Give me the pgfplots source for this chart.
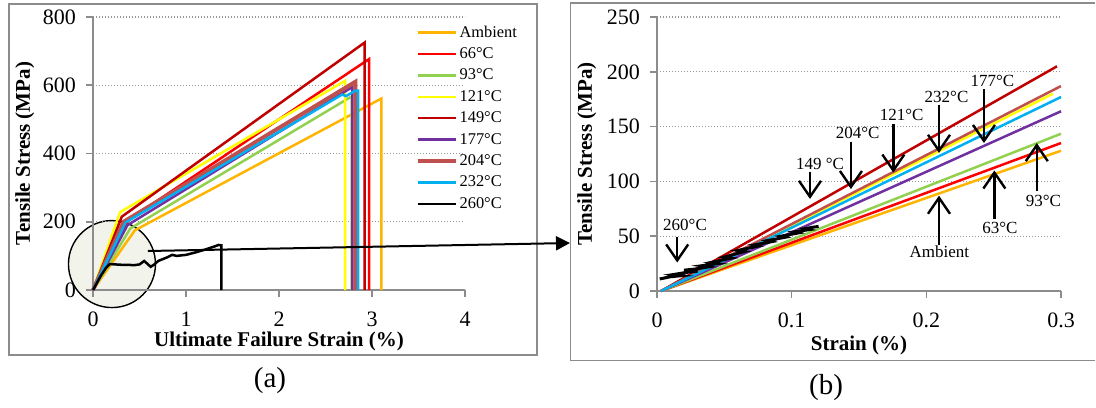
\documentclass[border=0pt]{standalone}
\usepackage{fontspec}
\setmainfont{Liberation Serif}
\usepackage{pgfplots}
\pgfplotsset{compat=1.18}
\usetikzlibrary{arrows.meta}

\definecolor{cAmb}{HTML}{FFB400}
\definecolor{cSixSix}{HTML}{FF0000}
\definecolor{cNineThree}{HTML}{92D050}
\definecolor{cOneTwoOne}{HTML}{FFFF00}
\definecolor{cOneFourNine}{HTML}{C00000}
\definecolor{cOneSevenSeven}{HTML}{7030A0}
\definecolor{cTwoZeroFour}{HTML}{C0504D}
\definecolor{cTwoThreeTwo}{HTML}{00B0F0}
\definecolor{framegray}{HTML}{8C8C8C}
\definecolor{circfill}{HTML}{F2F4EC}

\tikzset{annarrow/.style={line width=1.2pt, -{Straight Barb[length=8pt,width=11pt]}}}

\pgfplotsset{
  panel/.style={
    scale only axis,
    anchor=south west,
    clip=false,
    set layers=standard,
    axis x line*=bottom,
    axis y line*=left,
    axis line style={framegray, line width=0.8pt},
    tick align=outside,
    major tick length=3.5pt,
    tick style={framegray, line width=0.8pt},
    ymajorgrids=true,
    major grid style={gray!80, line width=0.6pt, dash pattern=on 0.6pt off 0.9pt},
    /pgf/number format/assume math mode=true,
    ticklabel style={font=\rmfamily\fontsize{11}{12}\selectfont},
    xticklabel style={yshift=-4pt},
    yticklabel style={xshift=-1.5pt},
    label style={font=\bfseries\fontsize{10.5}{12}\selectfont},
    every axis plot/.append style={line width=1.25pt},
  },
  /pgf/number format/1000 sep={},
}

\begin{document}
\begin{tikzpicture}
\path (0,0) rectangle (548pt,203pt);

% panel frames
\draw[framegray, line width=0.8pt] (4.35pt,25.5pt) rectangle (268.5pt,201pt);
\draw[framegray, line width=0.8pt] (547.5pt,201.5pt) -- (285.3pt,201.5pt) -- (285.3pt,22.7pt) -- (547.5pt,22.7pt);

% (a) ultimate failure
\begin{axis}[panel,
  at={(46.5pt,58pt)},
  width=186pt, height=136.5pt,
  xmin=0, xmax=4, ymin=0, ymax=800,
  xtick={0,1,2,3,4}, ytick={0,200,400,600,800},
  xlabel={Ultimate Failure Strain (\%)},
  ylabel={Tensile Stress (MPa)},
  xlabel style={at={(axis description cs:0.5,-0.189)}, anchor=center},
  ylabel style={at={(axis description cs:-0.183,0.5)}, anchor=center},
  legend style={draw=none, fill=none, at={(axis cs:3.40,792)}, anchor=north west,
    font=\fontsize{8.2}{9}\selectfont, row sep=2.2pt,
    nodes={inner xsep=1pt, inner ysep=0.5pt, text height=6pt, text depth=1.5pt}},
  legend cell align=left,
  legend image code/.code={\draw[#1] (0pt,0pt) -- (19pt,0pt);},
]
\addplot[cAmb] coordinates {(0,0) (0.45,175) (3.10,561) (3.10,0)};
\addlegendentry{Ambient}
\addplot[cSixSix] coordinates {(0,0) (0.38,205) (2.97,677) (2.97,0)};
\addlegendentry{66°C}
\addplot[cNineThree] coordinates {(0,0) (0.40,180) (2.78,567) (2.78,0)};
\addlegendentry{93°C}
\addplot[cOneTwoOne] coordinates {(0,0) (0.29,228) (2.71,613) (2.71,0)};
\addlegendentry{121°C}
\addplot[cOneFourNine] coordinates {(0,0) (0.31,215) (2.92,725) (2.92,0)};
\addlegendentry{149°C}
\addplot[cOneSevenSeven] coordinates {(0,0) (0.37,190) (2.79,595) (2.79,0)};
\addlegendentry{177°C}
\addplot[cTwoZeroFour, line width=2pt] coordinates {(0,0) (0.33,200) (2.82,610) (2.82,0)};
\addlegendentry{204°C}
\addplot[cTwoThreeTwo] coordinates {(0,0) (0.35,198) (2.68,573) (2.72,568) (2.82,584) (2.85,584) (2.85,0)};
\addlegendentry{232°C}
\addplot[black] coordinates {(0,0) (0.03,15) (0.08,40) (0.14,65) (0.18,76) (0.30,74)
  (0.45,73) (0.50,75) (0.55,85) (0.58,78) (0.62,68) (0.66,75) (0.70,85) (0.80,96)
  (0.85,103) (0.90,100) (1.00,103) (1.10,110) (1.20,118) (1.30,127) (1.35,132)
  (1.38,131) (1.38,0)};
\addlegendentry{260°C}

% magnifier circle behind the curves
\begin{pgfonlayer}{axis background}
\draw[black, line width=0.7pt, fill=circfill] (axis cs:0.204,76) circle[radius=21.75pt];
\end{pgfonlayer}
\coordinate (cstart) at (axis cs:0.591,114.3);
\end{axis}

% (b) initial region
\begin{axis}[panel,
  at={(328.5pt,57.5pt)},
  width=202pt, height=137pt,
  xmin=0, xmax=0.3, ymin=0, ymax=250,
  xtick={0,0.1,0.2,0.3}, ytick={0,50,100,150,200,250},
  xticklabels={0,0.1,0.2,0.3},
  xlabel={Strain (\%)},
  ylabel={Tensile Stress (MPa)},
  xlabel style={at={(axis description cs:0.5,-0.197)}, anchor=center},
  ylabel style={at={(axis description cs:-0.174,0.5)}, anchor=center},
]
\addplot[cAmb] coordinates {(0.003,0) (0.3,128)};
\addplot[cSixSix] coordinates {(0.003,0) (0.3,135)};
\addplot[cNineThree] coordinates {(0.003,0) (0.3,143.5)};
\addplot[cOneTwoOne] coordinates {(0.003,0) (0.294,180)};
\addplot[cOneFourNine] coordinates {(0.003,0) (0.297,205)};
\addplot[cOneSevenSeven] coordinates {(0.003,0) (0.3,164)};
\addplot[cTwoZeroFour] coordinates {(0.003,0) (0.3,187)};
\addplot[cTwoThreeTwo] coordinates {(0.003,0) (0.3,177)};
\addplot[black, line width=1.5pt] coordinates {(0.002,11) (0.010,13) (0.018,14) (0.012,15)
  (0.022,17) (0.030,18) (0.020,19) (0.028,20) (0.038,22) (0.033,23) (0.045,25)
  (0.040,26) (0.055,30) (0.050,31) (0.065,36) (0.060,37) (0.075,41) (0.072,42)
  (0.085,45) (0.082,46) (0.095,49) (0.092,50) (0.105,53) (0.102,54) (0.113,56)
  (0.110,57) (0.120,59)};

% annotations
\begin{scope}[font=\fontsize{8.5}{9}\selectfont]
\draw[annarrow] (axis cs:0.015,49.5) -- (axis cs:0.015,26);
\node at (axis cs:0.0208,60) {260°C};
\draw[annarrow] (axis cs:0.1136,109) -- (axis cs:0.1136,84);
\node at (axis cs:0.121,116) {149 °C};
\draw[annarrow] (axis cs:0.144,136) -- (axis cs:0.144,93);
\node at (axis cs:0.149,144.4) {204°C};
\draw[annarrow] (axis cs:0.1755,152) -- (axis cs:0.1755,108);
\node at (axis cs:0.1817,161) {121°C};
\draw[annarrow] (axis cs:0.2094,170) -- (axis cs:0.2094,126);
\node at (axis cs:0.215,177) {232°C};
\draw[annarrow] (axis cs:0.2428,184) -- (axis cs:0.2428,135);
\node at (axis cs:0.249,191.6) {177°C};
\draw[annarrow] (axis cs:0.2094,42) -- (axis cs:0.2094,87);
\node at (axis cs:0.2097,35.9) {Ambient};
\draw[annarrow] (axis cs:0.2505,66) -- (axis cs:0.2505,110);
\node at (axis cs:0.2547,57.8) {63°C};
\draw[annarrow] (axis cs:0.282,91.5) -- (axis cs:0.282,135);
\node at (axis cs:0.287,82) {93°C};
\end{scope}
\end{axis}

% connector arrow
\draw[black, line width=1pt, -{Triangle[length=7pt,width=7pt]}] (cstart) -- (285pt,81.5pt);

\node[font=\fontsize{14.5}{17}\selectfont] at (135pt,12.5pt) {(a)};
\node[font=\fontsize{14.5}{17}\selectfont] at (413pt,9pt) {(b)};
\end{tikzpicture}
\end{document}
